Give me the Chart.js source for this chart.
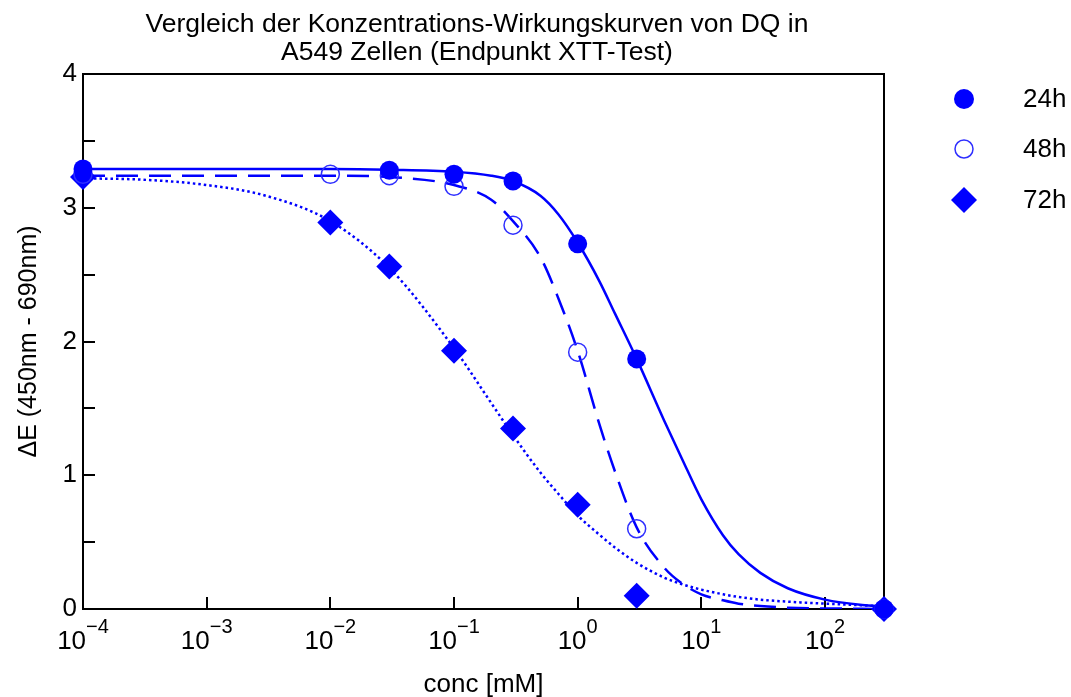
<!DOCTYPE html>
<html>
<head>
<meta charset="utf-8">
<script src="https://cdn.jsdelivr.net/npm/chart.js@4.4.1/dist/chart.umd.min.js"></script>
<style>
html, body { margin: 0; padding: 0; background: #fff; }
</style>
</head>
<body>
<canvas id="chart" width="1071" height="697"></canvas>
<script>
// Messwerte (Punkte)
var conc = [0.0001, 0.01, 0.03, 0.1, 0.3, 1, 3, 300];
var e24h = [3.29, null, 3.28, 3.25, 3.20, 2.73, 1.87, 0];
var e48h = [3.25, 3.25, 3.24, 3.16, 2.87, 1.92, 0.60, 0];
var e72h = [3.23, 2.89, 2.56, 1.93, 1.35, 0.78, 0.10, 0];

// Kurven
var fitConc = [0.0001, 0.0003, 0.001, 0.003, 0.01, 0.03, 0.1, 0.2, 0.3, 0.5, 0.7, 1, 1.5, 2, 3, 5, 7, 10, 15, 20, 30, 50, 100, 200, 300];
var fit24h = [3.29, 3.29, 3.29, 3.29, 3.29, 3.285, 3.27, 3.24, 3.20, 3.09, 2.95, 2.74, 2.45, 2.21, 1.87, 1.41, 1.12, 0.82, 0.55, 0.41, 0.27, 0.155, 0.07, 0.03, 0.02];
var fit48h = [3.24, 3.24, 3.24, 3.24, 3.24, 3.23, 3.17, 3.06, 2.90, 2.63, 2.32, 1.93, 1.38, 1.03, 0.61, 0.31, 0.19, 0.11, 0.065, 0.04, 0.022, 0.01, 0.004, 0.002, 0];
var fit72h = [3.22, 3.21, 3.17, 3.09, 2.90, 2.55, 1.95, 1.54, 1.30, 1.02, 0.86, 0.70, 0.555, 0.46, 0.345, 0.235, 0.185, 0.145, 0.11, 0.09, 0.07, 0.055, 0.04, 0.028, 0.02];

var seriesNames = ["24h", "48h", "72h"];
var xExponents = [-4, -3, -2, -1, 0, 1, 2];
var yMinorTicks = [0.5, 1, 1.5, 2, 2.5, 3, 3.5];
var titleLines = ["Vergleich der Konzentrations-Wirkungskurven von DQ in", "A549 Zellen (Endpunkt XTT-Test)"];

var blue = "#0000ff";
var fontName = '"Liberation Sans", Arial, Helvetica, sans-serif';

function toXY(xs, ys) {
    var out = [];
    for (var i = 0; i < xs.length; i++) {
        if (ys[i] !== null) out.push({x: xs[i], y: ys[i]});
    }
    return out;
}

// Rahmen, Ticks nach innen, Titel und Legende
var decor = {
    id: "decor",
    beforeDatasetsDraw: function (chart) {
        var ctx = chart.ctx, a = chart.chartArea;
        var xs = chart.scales.x, ys = chart.scales.y;
        ctx.save();
        ctx.strokeStyle = "#000";
        ctx.lineWidth = 2;
        ctx.strokeRect(a.left, a.top, a.right - a.left, a.bottom - a.top);
        ctx.beginPath();
        xExponents.forEach(function (e) {
            var px = Math.round(xs.getPixelForValue(Math.pow(10, e)));
            ctx.moveTo(px, a.bottom);
            ctx.lineTo(px, a.bottom - 12);
        });
        yMinorTicks.forEach(function (v) {
            var py = Math.round(ys.getPixelForValue(v));
            ctx.moveTo(a.left, py);
            ctx.lineTo(a.left + 12, py);
        });
        ctx.stroke();
        ctx.restore();
    },
    afterDraw: function (chart) {
        var ctx = chart.ctx;
        var xs = chart.scales.x;
        ctx.save();
        ctx.fillStyle = "#000";

        // x tick labels 10^n
        ctx.textBaseline = "alphabetic";
        ctx.textAlign = "left";
        xExponents.forEach(function (e) {
            var px = xs.getPixelForValue(Math.pow(10, e));
            var sup = e < 0 ? "\u2212" + (-e) : String(e);
            ctx.font = "26px " + fontName;
            var wb = ctx.measureText("10").width;
            ctx.font = "20px " + fontName;
            var ws = ctx.measureText(sup).width;
            var x0 = px - (wb + ws) / 2;
            ctx.font = "26px " + fontName;
            ctx.fillText("10", x0, 649);
            ctx.font = "20px " + fontName;
            ctx.fillText(sup, x0 + wb, 633);
        });

        // title
        ctx.textAlign = "center";
        ctx.textBaseline = "middle";
        ctx.font = "26.5px " + fontName;
        ctx.fillText(titleLines[0], 477, 25);
        ctx.fillText(titleLines[1], 477, 53);

        // legend
        var ly = [99, 149, 200];
        var lx = 964;
        ctx.fillStyle = blue;
        ctx.beginPath();
        ctx.arc(lx, ly[0], 10, 0, Math.PI * 2);
        ctx.fill();
        ctx.strokeStyle = "#2f2fff";
        ctx.lineWidth = 1.5;
        ctx.beginPath();
        ctx.arc(lx, ly[1], 9, 0, Math.PI * 2);
        ctx.stroke();
        ctx.beginPath();
        ctx.moveTo(lx - 13, ly[2]);
        ctx.lineTo(lx, ly[2] - 13);
        ctx.lineTo(lx + 13, ly[2]);
        ctx.lineTo(lx, ly[2] + 13);
        ctx.closePath();
        ctx.fill();
        ctx.fillStyle = "#000";
        ctx.textAlign = "left";
        ctx.font = "26px " + fontName;
        for (var i = 0; i < seriesNames.length; i++) {
            ctx.fillText(seriesNames[i], 1023, ly[i] + 1);
        }
        ctx.restore();
    }
};

var ctx = document.getElementById("chart").getContext("2d");
var chart = new Chart(ctx, {
    type: "scatter",
    data: {
        datasets: [
            {label: seriesNames[0], data: toXY(conc, e24h), pointStyle: "circle", pointRadius: 9.5,
             backgroundColor: blue, borderColor: blue, borderWidth: 0, showLine: false, clip: false, order: 0},
            {label: seriesNames[1], data: toXY(conc, e48h), pointStyle: "circle", pointRadius: 9,
             backgroundColor: "rgba(0,0,0,0)", borderColor: "#2f2fff", borderWidth: 1.5, showLine: false, clip: false, order: 1},
            {label: seriesNames[2], data: toXY(conc, e72h), pointStyle: "rectRot", pointRadius: 13,
             backgroundColor: blue, borderColor: blue, borderWidth: 0, showLine: false, clip: false, order: 2},
            {label: "fit 24h", data: toXY(fitConc, fit24h), showLine: true, pointRadius: 0,
             borderColor: blue, borderWidth: 2.5, cubicInterpolationMode: "monotone", order: 3},
            {label: "fit 48h", data: toXY(fitConc, fit48h), showLine: true, pointRadius: 0,
             borderColor: blue, borderWidth: 2.5, borderDash: [22, 11], cubicInterpolationMode: "monotone", order: 3},
            {label: "fit 72h", data: toXY(fitConc, fit72h), showLine: true, pointRadius: 0,
             borderColor: blue, borderWidth: 2.5, borderDash: [2.5, 3], cubicInterpolationMode: "monotone", order: 3}
        ]
    },
    options: {
        responsive: false,
        animation: false,
        devicePixelRatio: 1,
        layout: {padding: {top: 74, right: 187, left: 0, bottom: 0}},
        plugins: {
            legend: {display: false},
            tooltip: {enabled: false},
            title: {display: false}
        },
        scales: {
            x: {
                type: "logarithmic",
                min: 0.0001,
                max: 300,
                grid: {display: false},
                border: {display: false},
                ticks: {display: false},
                title: {display: true, text: "conc [mM]", color: "#000",
                        font: {size: 26, family: fontName}, padding: {top: 0, bottom: -3}},
                afterFit: function (scale) { scale.height = 88; }
            },
            y: {
                min: 0,
                max: 4,
                grid: {display: false, drawTicks: false},
                border: {display: false},
                ticks: {stepSize: 1, color: "#000", padding: 6, font: {size: 26, family: fontName}},
                title: {display: true, text: "\u0394E (450nm - 690nm)", color: "#000",
                        font: {size: 25, family: fontName}, padding: {top: 14, bottom: 0}},
                afterFit: function (scale) { scale.width = 83; }
            }
        }
    },
    plugins: [decor]
});
</script>
</body>
</html>
